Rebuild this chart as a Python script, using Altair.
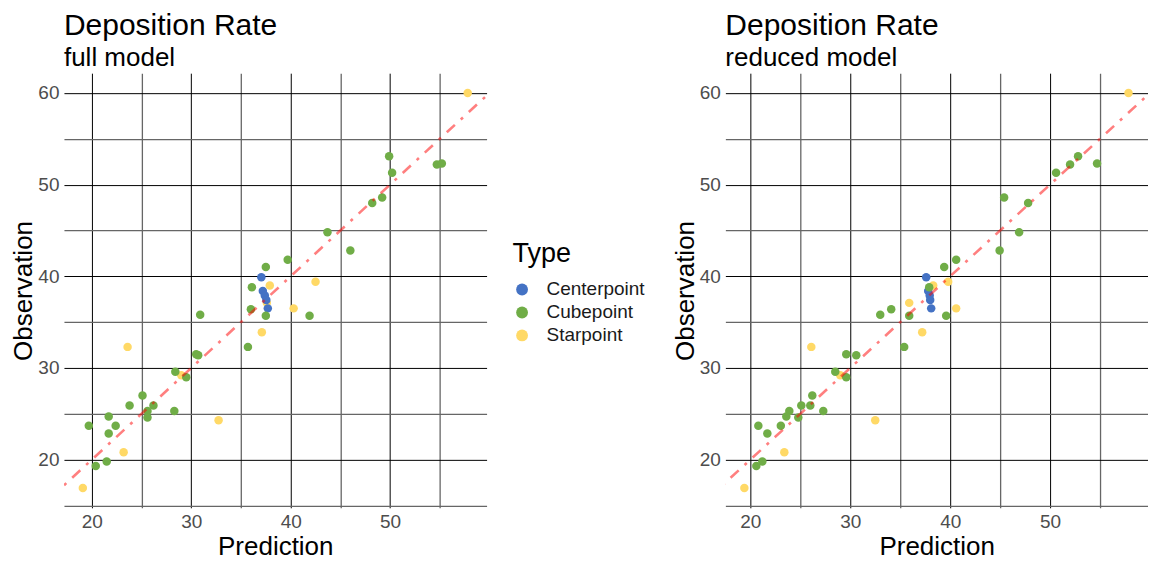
import altair as alt
import pandas as pd

# ---- data ----
types = ["Centerpoint", "Cubepoint", "Starpoint"]
colors = ["#4472C4", "#70AD47", "#FFD966"]

star_obs = [60.0, 39.4, 39.0, 37.1, 36.5, 33.9, 32.3, 29.2, 24.3, 20.8, 16.9]
star_full = [57.8, 42.5, 37.9, 37.6, 40.3, 37.1, 23.6, 29.0, 32.75, 23.2, 19.1]
star_red = [57.85, 39.8, 38.3, 35.9, 40.6, 37.2, 26.1, 29.0, 32.5, 23.4, 19.4]

center_obs = [39.9, 38.4, 37.9, 37.4, 36.5]
center_full = [37.05, 37.2, 37.4, 37.55, 37.7]
center_red = [37.6, 37.8, 37.95, 38.0, 38.1]

cube_obs = [53.1, 52.2, 52.3, 51.3, 48.6, 48.0, 44.8, 42.8, 41.8, 41.0, 38.8, 36.4,
            35.7, 35.7, 35.8, 32.3, 31.5, 31.4, 29.6, 29.0, 27.0, 25.9, 25.9, 25.3,
            25.3, 24.7, 24.6, 23.7, 23.7, 22.85, 19.8, 19.3]
cube_full = [49.9, 54.7, 55.2, 50.2, 49.2, 48.2, 43.7, 46.0, 39.7, 37.5, 36.1, 36.0,
             37.5, 41.9, 30.9, 35.7, 30.5, 30.7, 28.4, 29.5, 25.1, 23.8, 26.2, 25.6,
             28.3, 21.7, 25.6, 19.7, 22.4, 21.7, 21.5, 20.4]
cube_red = [52.8, 52.0, 54.7, 50.6, 45.4, 47.8, 46.9, 44.95, 40.6, 39.4, 37.9, 34.1,
            35.9, 39.6, 33.0, 35.4, 29.6, 30.6, 28.5, 29.6, 26.2, 25.1, 26.0, 23.9,
            27.3, 23.6, 24.8, 20.8, 23.05, 21.7, 21.2, 20.6]

ref_line = [15, 62]          # identity line y = x
grid_values = [15, 20, 25, 30, 35, 40, 45, 50, 55, 60]

df = pd.DataFrame({
    "Observation": star_obs + center_obs + cube_obs,
    "full": star_full + center_full + cube_full,
    "reduced": star_red + center_red + cube_red,
    "Type": ["Starpoint"] * len(star_obs) + ["Centerpoint"] * len(center_obs)
            + ["Cubepoint"] * len(cube_obs),
})
line_df = pd.DataFrame({"v": ref_line})

FONT = "Liberation Sans"
W, H = 423, 435


def axis(title, tpad, lpad):
    return alt.Axis(
        title=title, values=grid_values,
        labelExpr="datum.value % 10 === 0 ? datum.label : ''",
        ticks=False, domain=False,
        gridColor=alt.condition("datum.value % 10 === 0", alt.value("#000000"), alt.value("#666666")),
        gridWidth=alt.condition("datum.value % 10 === 0", alt.value(1), alt.value(1.3)),
        labelFontSize=19, labelColor="#4D4D4D", labelFont=FONT, labelPadding=lpad,
        titleFontSize=26, titleColor="#000000", titleFont=FONT, titleFontWeight="normal",
        titlePadding=tpad,
    )


def panel(col, subtitle, xdom, show_legend):
    legend = alt.Legend(
        title="Type", orient="none", legendX=449, legendY=168,
        titleFontSize=27, titleFont=FONT, titleFontWeight="normal", titleColor="#000000",
        titlePadding=12,
        labelFontSize=19, labelFont=FONT, labelColor="#1A1A1A", labelOffset=15,
        symbolSize=140, symbolType="circle", symbolStrokeWidth=0, rowPadding=3,
    ) if show_legend else None
    pts = alt.Chart(df).mark_circle(size=72, opacity=1).encode(
        x=alt.X(f"{col}:Q", scale=alt.Scale(domain=xdom, nice=False, zero=False),
                axis=axis("Prediction", 2, 5)),
        y=alt.Y("Observation:Q", scale=alt.Scale(domain=[14.75, 62.15], nice=False, zero=False),
                axis=axis("Observation", 1, 5)),
        color=alt.Color("Type:N", scale=alt.Scale(domain=types, range=colors), legend=legend),
    )
    line = alt.Chart(line_df).mark_line(
        color="red", opacity=0.5, strokeWidth=2.6, strokeDash=[3, 8, 11, 8], clip=True
    ).encode(
        x=alt.X("v:Q"),
        y=alt.Y("v:Q"),
    )
    return alt.layer(pts, line).properties(
        width=W, height=H,
        title=alt.TitleParams(
            "Deposition Rate", subtitle=subtitle, anchor="start", frame="group",
            font=FONT, fontSize=30, fontWeight="normal", color="#000000",
            subtitleFont=FONT, subtitleFontSize=26, subtitleColor="#000000",
            subtitlePadding=4, offset=2,
        ),
    )


left = panel("full", "full model", [17.2, 59.7], True)
right = panel("reduced", "reduced model", [17.5, 59.8], False)

chart = alt.hconcat(left, right, spacing=239).properties(
    bounds="flush", padding={"left": 2, "top": 3, "right": 0, "bottom": 0}
).resolve_legend(color="independent").configure_view(stroke=None)

chart.save("out.html", embed_options={"renderer": "svg", "actions": False})
